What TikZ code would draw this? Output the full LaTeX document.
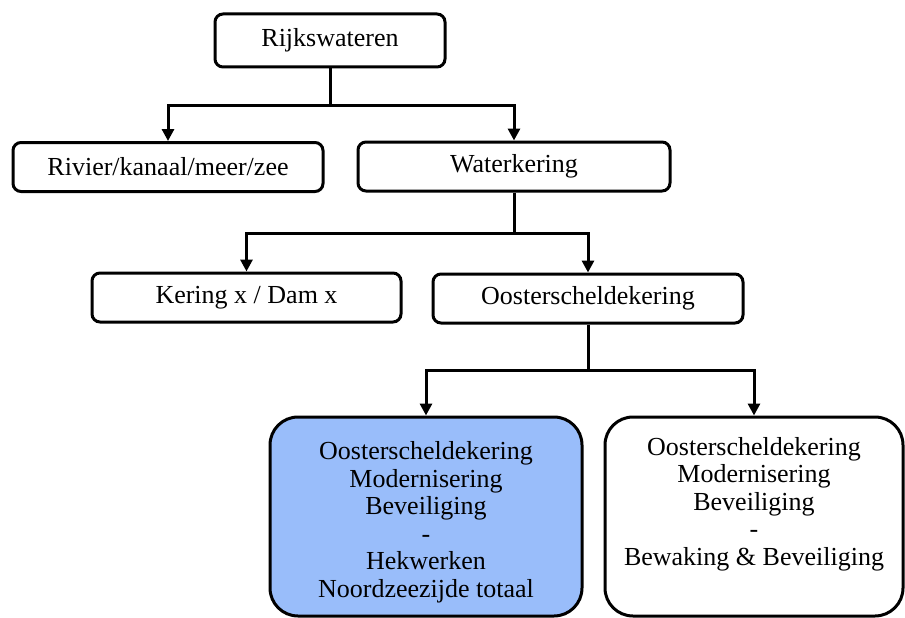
\documentclass[tikz,border=0pt]{standalone}
\usepackage{fontspec}
\setmainfont{Liberation Serif}
\usetikzlibrary{arrows.meta}
\definecolor{boxblue}{RGB}{153,189,250}

\begin{document}
\begin{tikzpicture}[x=1pt, y=-1pt, >={Triangle[length=12pt,width=12pt]},
    line width=3pt, font=\fontsize{26}{27.5}\selectfont,
    blok/.style={draw, rounded corners=8pt, inner sep=0pt, minimum height=49pt},
    groot/.style={draw, rounded corners=28pt, inner sep=0pt, align=center}]
  \useasboundingbox (0,0) rectangle (905,618);
  % niveau 1
  \node[blok, minimum width=230pt, minimum height=53pt] (rijk) at (330,40.5) {Rijkswateren};
  % niveau 2
  \node[blok, minimum width=310pt] (rivier) at (168,167) {Rivier/kanaal/meer/zee};
  \node[blok, minimum width=312pt] (water) at (514,166.5) {Waterkering};
  % niveau 3
  \node[blok, minimum width=309pt] (kering) at (246.5,297.5) {Kering x / Dam x};
  \node[blok, minimum width=310pt] (ooster) at (588,298.5) {Oosterscheldekering};
  % niveau 4
  \node[groot, fill=boxblue, minimum width=312pt, text height=180pt, text depth=19pt]
    (hek) at (426,516.5) {Oosterscheldekering\\Modernisering\\Beveiliging\\-\\Hekwerken\\Noordzeezijde totaal};
  \node[groot, minimum width=298pt, text height=148pt, text depth=51pt]
    (bewaking) at (754,516.5) {Oosterscheldekering\\Modernisering\\Beveiliging\\-\\Bewaking \& Beveiliging};
  % verbindingen
  \coordinate (split1) at (330,105);
  \coordinate (split2) at (514,233);
  \coordinate (split3) at (588,370);
  \draw[->] (rijk.south) -- (split1) -| (rivier.north);
  \draw[->] (split1) -| (water.north);
  \draw[->] (water.south) -- (split2) -| (kering.north);
  \draw[->] (split2) -| (ooster.north);
  \draw[->] (ooster.south) -- (split3) -| (hek.north);
  \draw[->] (split3) -| (bewaking.north);
\end{tikzpicture}
\end{document}
